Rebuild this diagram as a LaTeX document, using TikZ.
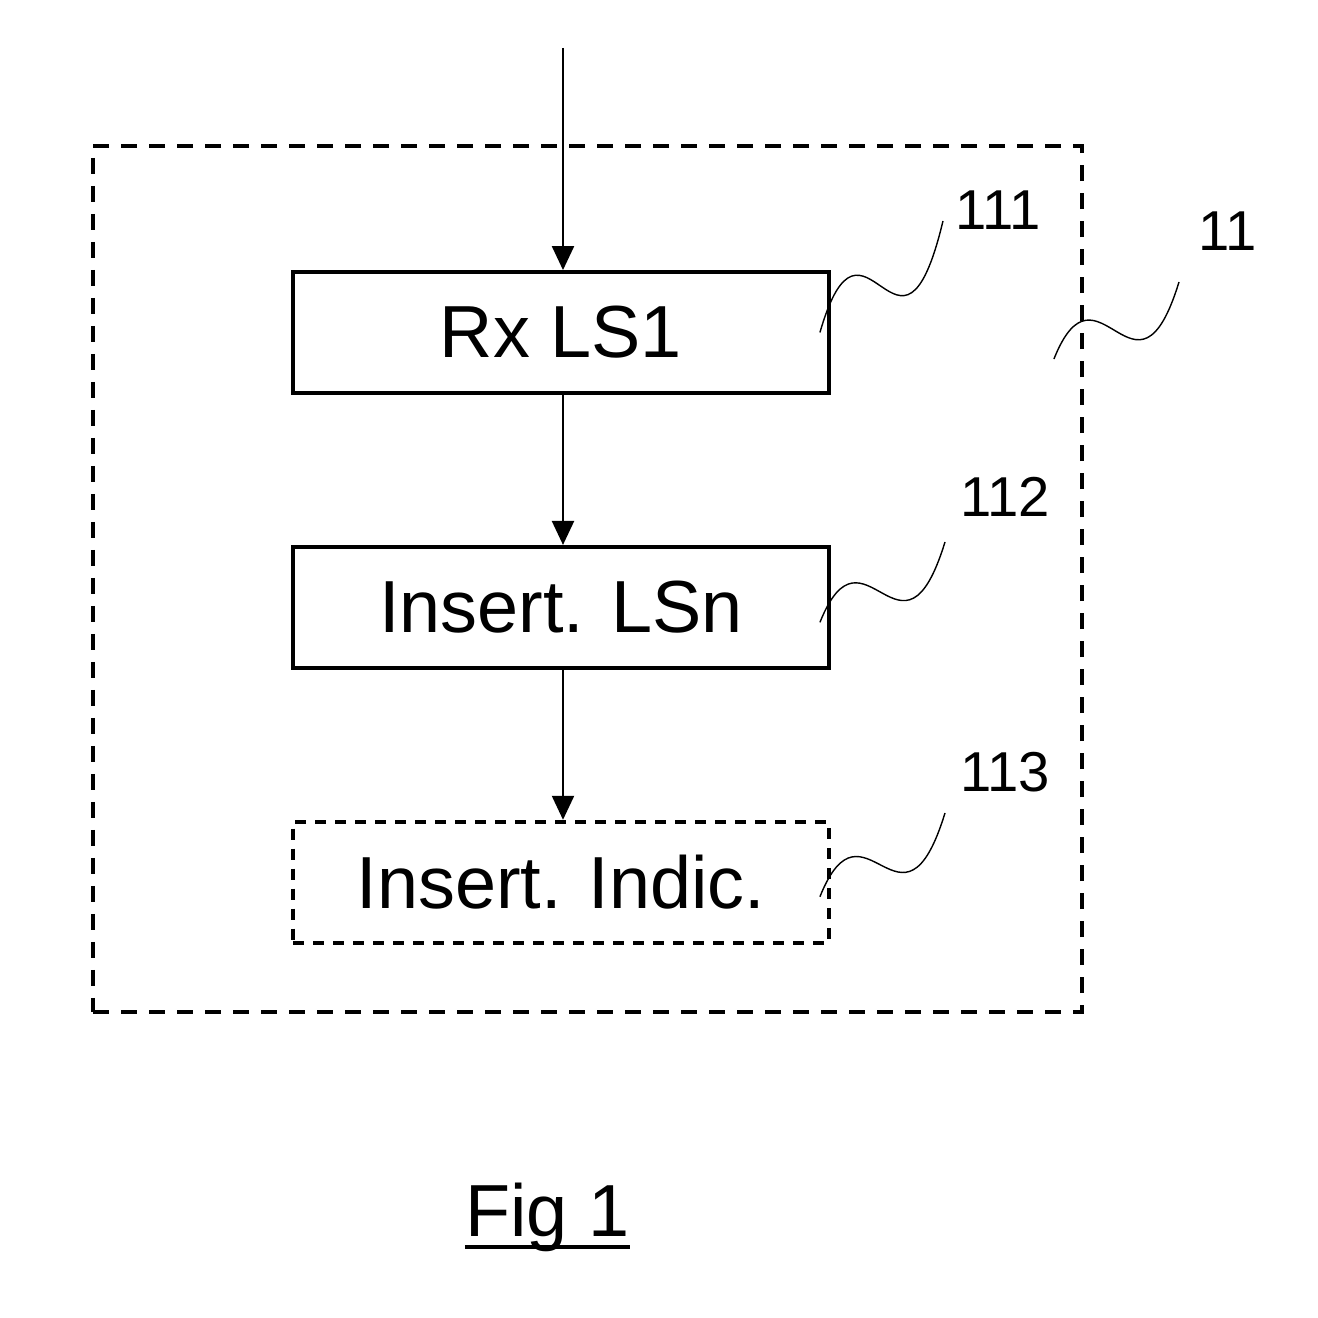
\documentclass[tikz,border=0pt]{standalone}
\usepackage{fontspec}
\setmainfont{Liberation Sans}
\usetikzlibrary{arrows.meta,positioning}

\begin{document}
\begin{tikzpicture}[>={Triangle[width=2.2mm,length=2.4mm]},
    block/.style={draw, line width=1.1pt, minimum width=5.36cm, minimum height=1.21cm,
      inner sep=0pt, font=\fontsize{21}{25}\selectfont},
    optblock/.style={block, dash pattern=on 1.1mm off 0.9mm},
    flow/.style={->, line width=0.65pt},
    lead/.style={line width=0.4pt},
    refnum/.style={font=\fontsize{16}{19}\selectfont}]
  \useasboundingbox (0,0) rectangle (13.18,13.18);
  % outer unit 11
  \node[draw, line width=1.1pt, dash pattern=on 1.6mm off 1.2mm,
    minimum width=9.89cm, minimum height=8.66cm, inner sep=0pt] (blk) at (5.875,7.39) {};
  % blocks
  \node[block] (rx) at (5.61,9.855) {Rx LS1};
  \node[block, below=1.5cm of rx] (ins) {Insert. LSn};
  \node[optblock, below=1.5cm of ins] (ind) {Insert. Indic.};
  \coordinate (src) at (5.63,12.70);
  \draw[flow] (src) -- (src |- rx.north);
  \draw[flow] (src |- rx.south) -- (src |- ins.north);
  \draw[flow] (src |- ins.south) -- (src |- ind.north);
  % reference numerals
  \node[refnum] (n111) at (9.98,11.08) {111};
  \node[refnum] (n11) at (12.28,10.87) {11};
  \node[refnum] (n112) at (10.05,8.21) {112};
  \node[refnum] (n113) at (10.05,5.46) {113};
  \coordinate (t111) at (9.43,10.97);
  \coordinate (t11) at (11.79,10.36);
  \coordinate (t112) at (9.45,7.76);
  \coordinate (t113) at (9.45,5.05);
  \draw[lead] ([xshift=-1.1mm]rx.east) .. controls +(0.44,1.52) and +(-0.43,-1.79) .. (t111);
  \draw[lead] ([shift={(-0.3,2.2)}]blk.east) .. controls +(0.44,1.10) and +(-0.43,-1.40) .. (t11);
  \draw[lead] ([shift={(-0.11,-0.15)}]ins.east) .. controls +(0.44,1.10) and +(-0.43,-1.40) .. (t112);
  \draw[lead] ([shift={(-0.11,-0.145)}]ind.east) .. controls +(0.44,1.10) and +(-0.43,-1.40) .. (t113);
  % caption
  \node[anchor=base, inner sep=0pt, font=\fontsize{21}{25}\selectfont] (fig) at (5.475,0.81) {Fig 1};
  \draw[line width=1.1pt] ([yshift=-1mm]fig.base west) -- ([yshift=-1mm]fig.base east);
\end{tikzpicture}
\end{document}
